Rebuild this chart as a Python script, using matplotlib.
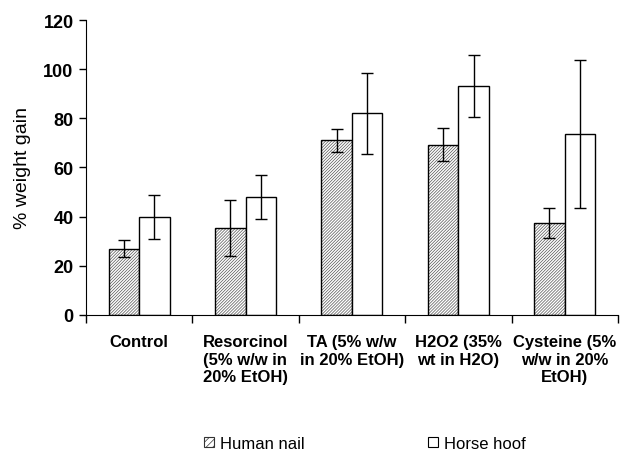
import matplotlib
matplotlib.use("AGG")
import matplotlib.pyplot as plt
from matplotlib.patches import Patch
import numpy as np

plt.rcParams['font.family'] = ['Liberation Sans', 'DejaVu Sans']
plt.rcParams['hatch.linewidth'] = 0.5

# data
categories = ['Control',
              'Resorcinol\n(5% w/w in\n20% EtOH)',
              'TA (5% w/w\nin 20% EtOH)',
              'H2O2 (35%\nwt in H2O)',
              'Cysteine (5%\nw/w in 20%\nEtOH)']
nail = [27, 35.3, 71, 69.2, 37.5]
nail_err = [3.5, 11.5, 4.5, 6.7, 6]
hoof = [40, 48, 82, 93, 73.7]
hoof_err = [9, 9, 16.4, 12.6, 30.2]

fig = plt.figure(figsize=(6.21, 4.52), dpi=100)
ax = fig.add_axes([0.1385, 0.301, 0.8565, 0.6525])

x = np.arange(len(categories))
w = 0.287
hatch = '/' * 11
# hatch in grey, outline in black
ax.bar(x - w/2, nail, w, color='white', edgecolor='#555555', hatch=hatch, linewidth=0, zorder=2)
ax.bar(x - w/2, nail, w, color='none', edgecolor='black', linewidth=1, zorder=2)
ax.bar(x + w/2, hoof, w, color='white', edgecolor='black', linewidth=1, zorder=2)
ax.errorbar(x - w/2, nail, yerr=nail_err, fmt='none', ecolor='black', elinewidth=1, capsize=4, capthick=1, zorder=3)
ax.errorbar(x + w/2, hoof, yerr=hoof_err, fmt='none', ecolor='black', elinewidth=1, capsize=4, capthick=1, zorder=3)

ax.set_xlim(-0.5, len(categories) - 0.5)
ax.set_ylim(0, 120)
ax.set_yticks(range(0, 121, 20))
ax.tick_params(axis='y', labelsize=13, length=5, width=1, pad=4)
for t in ax.get_yticklabels():
    t.set_fontweight('bold')

# boundary ticks, labels at centres
ax.set_xticks(np.arange(-0.5, len(categories), 1.0))
ax.set_xticklabels([])
ax.tick_params(axis='x', which='major', length=6, width=1)
ax.set_xticks(x, minor=True)
ax.set_xticklabels(categories, minor=True, fontsize=12, fontweight='bold', linespacing=1.2)
ax.tick_params(axis='x', which='minor', length=0, pad=14)
ax.get_xticklabels(minor=True)[1].set_multialignment('left')

ax.spines['top'].set_visible(False)
ax.spines['right'].set_visible(False)
ax.set_ylabel('% weight gain', fontsize=14, labelpad=9)

handles = [Patch(facecolor='white', edgecolor='#333333', hatch='/' * 5, linewidth=0.8),
           Patch(facecolor='white', edgecolor='black', linewidth=0.8)]
fig.legend(handles, ['Human nail', 'Horse hoof'], loc='center', bbox_to_anchor=(0.588, 0.017),
           ncol=2, frameon=False, fontsize=12, handlelength=0.6, handleheight=0.6,
           handletextpad=0.35, columnspacing=7.4)

plt.savefig("out.png", dpi=100)
